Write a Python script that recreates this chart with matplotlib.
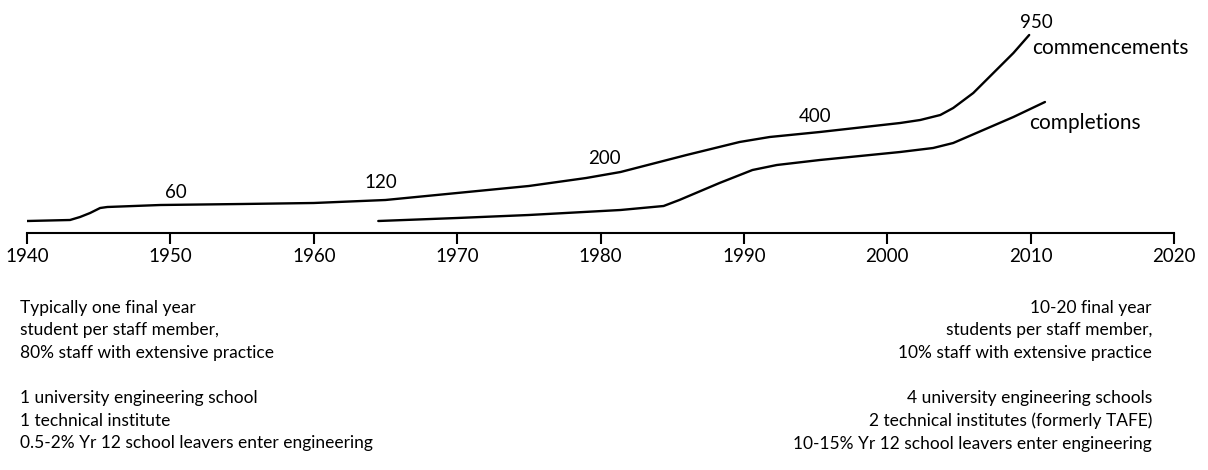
"""
Engineering student numbers, 1940-2010: commencements and completions.
"""

import matplotlib.pyplot as plt

plt.rcParams["font.family"] = ["Lato", "DejaVu Sans"]

# %%
# Data (height above the axis, arbitrary units)

comm_years = [1940, 1943.0, 1943.7, 1944.4, 1945.1, 1945.6, 1949.3, 1955, 1960, 1965,
              1970, 1975, 1979, 1981.4, 1986.0, 1989.7, 1991.8, 1995.3, 2000.9,
              2002.3, 2003.7, 2004.6, 2006.0, 2007.4, 2008.8, 2009.9]
comm_vals = [12, 13, 16, 20, 25, 26, 28, 29, 30, 33,
             40, 47, 55, 61, 78, 91, 96, 101, 110,
             113, 118, 125, 140, 160, 180, 198]

compl_years = [1964.5, 1970, 1975, 1981.4, 1984.4, 1985.5, 1988.3, 1990.6, 1992.3,
               1995.3, 2000.9, 2003.2, 2004.6, 2006.7, 2008.8, 2011.0]
compl_vals = [12, 15, 18, 23, 27, 33, 50, 63, 68,
              73, 81, 85, 90, 103, 116, 131]

# counts written along the commencements curve
count_labels = ["60", "120", "200", "400", "950"]
count_years = [1950.4, 1964.7, 1980.3, 1995.0, 2010.4]
count_heights = [40, 50, 75, 116, 211]

xticks = list(range(1940, 2021, 10))

left_notes = [
    "Typically one final year\nstudent per staff member,\n80% staff with extensive practice",
    "1 university engineering school\n1 technical institute\n0.5-2% Yr 12 school leavers enter engineering",
]
right_notes = [
    "10-20 final year\nstudents per staff member,\n10% staff with extensive practice",
    "4 university engineering schools\n2 technical institutes (formerly TAFE)\n10-15% Yr 12 school leavers enter engineering",
]

# %%
# Figure

W, H = 1208, 470
fig = plt.figure(figsize=(W / 100, H / 100), dpi=100)
ax = fig.add_axes([27 / W, 1 - 233 / H, (1174 - 27) / W, 233 / H])
ax.set_xlim(1940, 2020)
ax.set_ylim(0, 233)

ax.plot(comm_years, comm_vals, color="black", lw=1.7, solid_capstyle="round", solid_joinstyle="round")
ax.plot(compl_years, compl_vals, color="black", lw=1.7, solid_capstyle="round", solid_joinstyle="round")

for lab, xv, yv in zip(count_labels, count_years, count_heights):
    ax.text(xv, yv, lab, ha="center", va="center", fontsize=13.5)

ax.text(2010.1, 185, "commencements", ha="left", va="center", fontsize=15)
ax.text(2009.9, 110, "completions", ha="left", va="center", fontsize=15)

for side in ["top", "right", "left"]:
    ax.spines[side].set_visible(False)
ax.spines["bottom"].set_linewidth(1.5)
ax.set_yticks([])
ax.set_xticks(xticks)
ax.tick_params(axis="x", direction="out", length=8, width=1.5, labelsize=13.5, pad=3)

fs = 12.5
ls = 1.5
fig.text(20 / W, 1 - 300 / H, left_notes[0], ha="left", va="top", fontsize=fs, linespacing=ls)
fig.text(20 / W, 1 - 390 / H, left_notes[1], ha="left", va="top", fontsize=fs, linespacing=ls)
fig.text(1152 / W, 1 - 300 / H, right_notes[0], ha="right", va="top", fontsize=fs, linespacing=ls)
fig.text(1152 / W, 1 - 390 / H, right_notes[1], ha="right", va="top", fontsize=fs, linespacing=ls)

fig.savefig("out.png", dpi=100)
